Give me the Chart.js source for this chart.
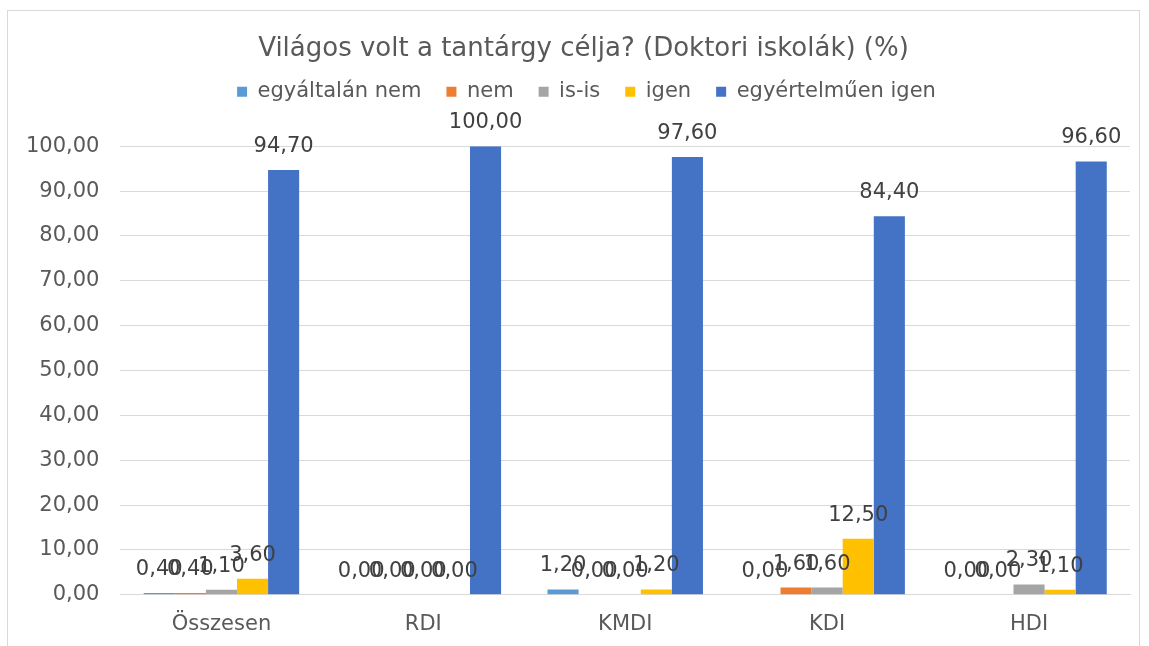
<!DOCTYPE html>
<html>
<head>
<meta charset="utf-8">
<script src="https://cdn.jsdelivr.net/npm/chart.js@4"></script>
<style>
html,body{margin:0;padding:0;background:#fff;}
#frame{position:absolute;left:7px;top:10px;width:1133px;height:640px;border:1px solid #d9d9d9;box-sizing:border-box;}
#wrap{position:absolute;left:0;top:0;width:1149px;height:646px;}
</style>
</head>
<body>
<div id="frame"></div>
<div id="wrap"><canvas id="c" width="1149" height="646"></canvas></div>
<script>
const categories = ["Összesen", "RDI", "KMDI", "KDI", "HDI"];
const seriesNames = ["egyáltalán nem", "nem", "is-is", "igen", "egyértelműen igen"];
const egyaltalanNem = [0.40, 0.00, 1.20, 0.00, 0.00];
const nem = [0.40, 0.00, 0.00, 1.60, 0.00];
const isIs = [1.10, 0.00, 0.00, 1.60, 2.30];
const igen = [3.60, 0.00, 1.20, 12.50, 1.10];
const egyertelmuenIgen = [94.70, 100.00, 97.60, 84.40, 96.60];
const colors = ["#5b9bd5", "#ed7d31", "#a5a5a5", "#ffc000", "#4472c4"];
const yTicks = [0,10,20,30,40,50,60,70,80,90,100];

const fmt = v => v.toFixed(2).replace('.', ',');
const FONT = "'DejaVu Sans', Verdana, sans-serif";

const labelPlugin = {
  id: 'valueLabels',
  afterDatasetsDraw(chart) {
    const ctx = chart.ctx;
    ctx.save();
    ctx.font = "21px " + FONT;
    ctx.fillStyle = "#404040";
    ctx.textAlign = "center";
    ctx.textBaseline = "bottom";
    chart.data.datasets.forEach((ds, i) => {
      const meta = chart.getDatasetMeta(i);
      meta.data.forEach((el, j) => {
        ctx.fillText(fmt(ds.data[j]), el.x, el.y - 13);
      });
    });
    ctx.restore();
  }
};

const legendSpace = {
  id: 'legendSpace',
  beforeInit(chart) {
    const orig = chart.legend.fit;
    chart.legend.fit = function () { orig.call(this); this.height += 24; };
  },
  afterLayout(chart) {
    chart.legend.left += 19; chart.legend.right += 19;
    chart.legend.top -= 10; chart.legend.bottom -= 10;
    chart.titleBlock.left += 16; chart.titleBlock.right += 16;
  }
};

const allSeries = [egyaltalanNem, nem, isIs, igen, egyertelmuenIgen];
new Chart(document.getElementById('c'), {
  type: 'bar',
  data: {
    labels: categories,
    datasets: allSeries.map((d, i) => ({
      label: seriesNames[i],
      data: d,
      backgroundColor: colors[i],
      borderWidth: 0,
      categoryPercentage: 0.77,
      barPercentage: 1.0
    }))
  },
  options: {
    responsive: false,
    animation: false,
    devicePixelRatio: 1,
    layout: { padding: { left: 5, right: 19, top: 10, bottom: 0 } },
    plugins: {
      title: {
        display: true,
        text: "Világos volt a tantárgy célja? (Doktori iskolák) (%)",
        color: "#595959",
        font: { family: FONT, size: 26, weight: 'normal' },
        padding: { top: 24, bottom: 1 }
      },
      legend: {
        position: 'top',
        labels: {
          color: "#595959",
          font: { family: FONT, size: 21 },
          boxWidth: 10,
          boxHeight: 10,
          padding: 25
        }
      },
      tooltip: { enabled: false }
    },
    scales: {
      x: {
        grid: { display: false },
        border: { color: "#d9d9d9", width: 1 },
        ticks: { color: "#595959", font: { family: FONT, size: 21 }, padding: 9 }
      },
      y: {
        min: 0, max: 100,
        afterBuildTicks: axis => { axis.ticks = yTicks.map(v => ({ value: v })); },
        grid: { color: "#d9d9d9", drawTicks: false },
        border: { display: false },
        ticks: { color: "#595959", font: { family: FONT, size: 21 }, padding: 21, callback: v => fmt(v) }
      }
    }
  },
  plugins: [labelPlugin, legendSpace]
});
</script>
</body>
</html>
